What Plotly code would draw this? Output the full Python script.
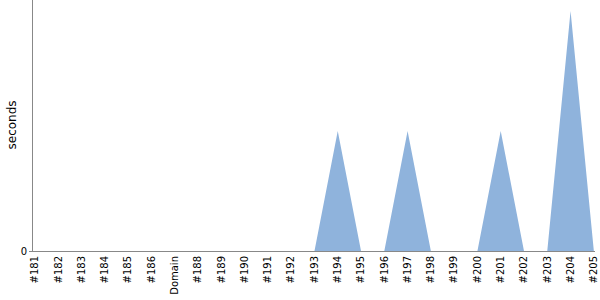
import plotly.graph_objects as go

categories = ["#181", "#182", "#183", "#184", "#185", "#186", "Domain", "#188", "#189", "#190",
              "#191", "#192", "#193", "#194", "#195", "#196", "#197", "#198", "#199", "#200",
              "#201", "#202", "#203", "#204", "#205"]
seconds = [0, 0, 0, 0, 0, 0, 0, 0, 0, 0,
           0, 0, 0, 1, 0, 0, 1, 0, 0, 0,
           1, 0, 0, 2, 0]

fig = go.Figure()
fig.add_trace(go.Scatter(
    x=list(range(len(categories))), y=seconds, mode="lines",
    fill="tozeroy", fillcolor="#8fb3dc",
    line=dict(width=0, color="#8fb3dc"), hoverinfo="skip",
))
fig.update_layout(
    width=600, height=300,
    margin=dict(l=33, r=5, t=0, b=49),
    paper_bgcolor="white", plot_bgcolor="white",
    showlegend=False,
    font=dict(family="DejaVu Sans", size=10, color="black"),
    xaxis=dict(
        range=[-0.09, 24.05], tickmode="array",
        tickvals=list(range(len(categories))), ticktext=categories,
        tickangle=-90, showgrid=False, zeroline=False,
        showline=True, linecolor="#888888", linewidth=1,
        ticks="", tickfont=dict(size=10), automargin=False,
    ),
    yaxis=dict(
        range=[0, 2.092], tickmode="array", tickvals=[0], ticktext=["0"],
        showgrid=False, zeroline=False, showline=True,
        linecolor="#888888", linewidth=1,
        ticks="outside", ticklen=3, tickcolor="#888888",
        tickfont=dict(size=10), automargin=False,
    ),
    annotations=[dict(
        text="seconds", textangle=-90, showarrow=False,
        xref="paper", yref="paper", x=0, y=0.5,
        xanchor="center", yanchor="middle", xshift=-22,
        font=dict(size=12, color="black"),
    )],
)
fig.write_html("out.html")
